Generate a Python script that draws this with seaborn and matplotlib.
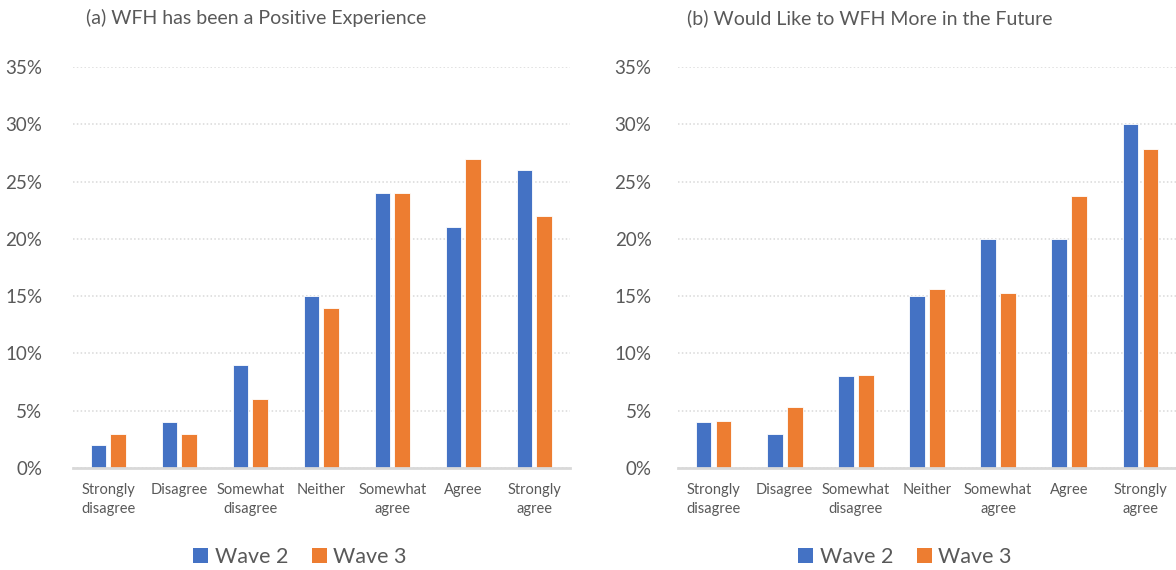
import matplotlib
matplotlib.use("Agg")
import matplotlib.pyplot as plt
from matplotlib.patches import Patch
from matplotlib.ticker import FuncFormatter, MultipleLocator
import seaborn as sns
import pandas as pd

# Response categories (x axis)
categories = ["Strongly\ndisagree", "Disagree", "Somewhat\ndisagree", "Neither",
              "Somewhat\nagree", "Agree", "Strongly\nagree"]
waves = ["Wave 2", "Wave 3"]

# (a) WFH has been a Positive Experience, percent of respondents
positive_w2 = [2, 4, 9, 15, 24, 21, 26]
positive_w3 = [3, 3, 6, 14, 24, 27, 22]

# (b) Would Like to WFH More in the Future, percent of respondents
more_w2 = [4, 3, 8, 15, 20, 20, 30]
more_w3 = [4.1, 5.3, 8.1, 15.6, 15.3, 23.7, 27.8]

titles = ["(a) WFH has been a Positive Experience",
          "(b) Would Like to WFH More in the Future"]

colors = {"Wave 2": "#4472C4", "Wave 3": "#ED7D31"}
text_gray = "#595959"
grid_gray = "#D9D9D9"


def long_table(w2, w3):
    return pd.DataFrame({
        "Response": categories * 2,
        "Wave": [waves[0]] * len(categories) + [waves[1]] * len(categories),
        "Share": w2 + w3,
    })


sns.set_theme(style="white")
plt.rcParams["font.family"] = ["Lato", "DejaVu Sans"]

fig = plt.figure(figsize=(11.76, 5.70), dpi=100)
axes = [fig.add_axes([0.062, 0.179, 0.4226, 0.7035]),
        fig.add_axes([0.5765, 0.179, 0.4235, 0.7035])]

panels = [(positive_w2, positive_w3), (more_w2, more_w3)]
ytick_pads = [22, 19]
title_x = [256 / 1176, 870 / 1176]
legend_x = [300 / 1176, 905 / 1176]

for ax, (w2, w3), pad in zip(axes, panels, ytick_pads):
    df = long_table(w2, w3)
    sns.barplot(data=df, x="Response", y="Share", hue="Wave", order=categories,
                hue_order=waves, palette=colors, saturation=1, width=0.56, gap=0.21,
                edgecolor="white", linewidth=0.6, legend=False, ax=ax)
    ax.set_ylim(0, 35)
    ax.set_xlim(-0.5, len(categories) - 0.5)
    ax.yaxis.set_major_locator(MultipleLocator(5))
    ax.yaxis.set_major_formatter(FuncFormatter(lambda v, _: f"{v:.0f}%"))
    ax.grid(axis="y", color=grid_gray, linestyle=(0, (1, 1.5)), linewidth=1.1)
    ax.set_axisbelow(True)
    for side in ["left", "right", "top"]:
        ax.spines[side].set_visible(False)
    ax.spines["bottom"].set_color(grid_gray)
    ax.spines["bottom"].set_linewidth(2)
    ax.spines["bottom"].set_zorder(3)
    ax.set_xlabel("")
    ax.set_ylabel("")
    ax.tick_params(axis="y", length=0, labelsize=13.5, labelcolor=text_gray, pad=pad)
    ax.tick_params(axis="x", length=0, labelsize=10.5, labelcolor=text_gray, pad=11)
    for lab in ax.get_xticklabels():
        lab.set_linespacing(1.45)

for tx, title in zip(title_x, titles):
    fig.text(tx, 1 - 18 / 570, title, ha="center", va="center",
             fontsize=14, color=text_gray)

handles = [Patch(facecolor=colors[w], edgecolor="none", label=w) for w in waves]
for cx in legend_x:
    fig.legend(handles=handles, loc="center", bbox_to_anchor=(cx, 0.023),
               ncol=2, frameon=False, fontsize=15.5, labelcolor=text_gray,
               handlelength=0.7, handleheight=0.7, handletextpad=0.3,
               columnspacing=1.1)

fig.savefig("out.png", dpi=100, facecolor="white")
